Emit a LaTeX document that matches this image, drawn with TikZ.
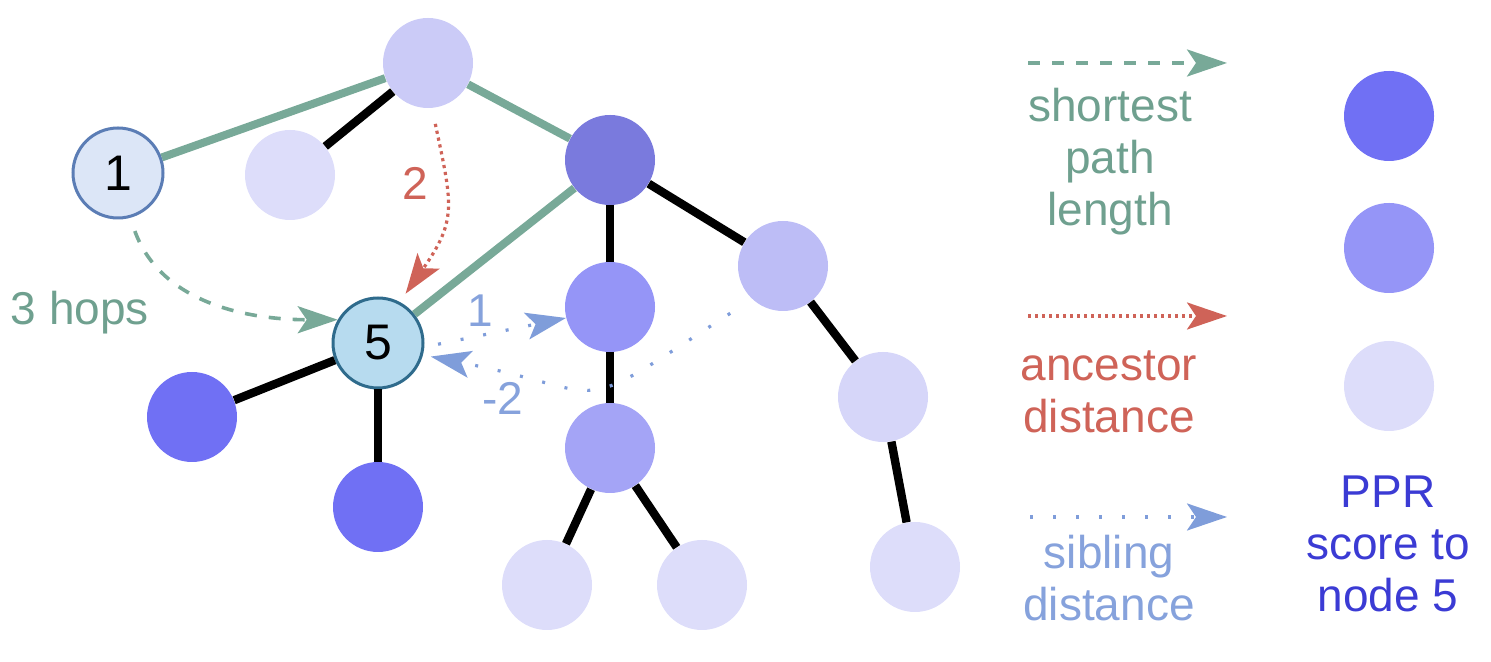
\documentclass[tikz,border=0pt]{standalone}
\usepackage{fontspec}
\setmainfont{Liberation Sans}
\usetikzlibrary{arrows.meta}

\definecolor{spgreen}{HTML}{78A998}
\definecolor{sptext}{HTML}{6FA08F}
\definecolor{ancred}{HTML}{CF6358}
\definecolor{sibblue}{HTML}{7F9DDA}
\definecolor{sibtext}{HTML}{86A2DC}
\definecolor{pprtext}{HTML}{3B3BD4}
\definecolor{pprA}{HTML}{7070F4}
\definecolor{pprB}{HTML}{7A7ADD}
\definecolor{pprC}{HTML}{9595F7}
\definecolor{pprD}{HTML}{A4A4F6}
\definecolor{pprE}{HTML}{BDBDF6}
\definecolor{pprF}{HTML}{CBCBF7}
\definecolor{pprG}{HTML}{D6D6F9}
\definecolor{pprH}{HTML}{DDDDFA}
\definecolor{onefill}{HTML}{DCE6F7}
\definecolor{oneline}{HTML}{5B7DB5}
\definecolor{fivefill}{HTML}{B7DBEF}
\definecolor{fiveline}{HTML}{2F6B8C}

\begin{document}
\begin{tikzpicture}[x=0.5pt,y=0.5pt, % 1 unit = 1 px of the drawing
  font=\fontsize{23}{26}\selectfont,
  vertex/.style={circle,minimum size=\nodesize,inner sep=0pt},
  marked/.style={vertex,draw,line width=1.5pt,font=\fontsize{25}{30}\selectfont},
  treeedge/.style={line width=\edgewd},
  pathedge/.style={line width=4pt,draw=spgreen},
  tip/.style={-{Stealth[length=20pt,width=13.5pt,inset=4.5pt]}},
  hopsarrow/.style={tip,spgreen,line width=1.8pt,dash pattern=on 6pt off 6pt},
  ancarrow/.style={tip,ancred,line width=1.6pt,dash pattern=on 1.6pt off 1.9pt},
  sibarrow/.style={tip,sibblue,line width=1.6pt,dash pattern=on 1.5pt off 10pt}]

% --------- PARAMETERS ----------
\def\nodesize{45pt}   % diameter of a vertex
\def\edgewd{4.2pt}    % width of the tree edges
% --------------------------------

\useasboundingbox (0,0) rectangle (1491,662);

% Vertices (fill = PPR score to node 5)
\node[vertex,fill=pprF] (top) at (428,599) {};
\node[marked,fill=onefill,draw=oneline] (n1) at (118,489) {1};
\node[vertex,fill=pprH] (leafa) at (290,487) {};
\node[vertex,fill=pprB] (hub) at (610,502) {};
\node[vertex,fill=pprC] (mida) at (610,355) {};
\node[vertex,fill=pprD] (midb) at (610,214) {};
\node[vertex,fill=pprE] (side) at (783,396) {};
\node[marked,fill=fivefill,draw=fiveline] (n5) at (378,319) {5};
\node[vertex,fill=pprA] (kida) at (192,245) {};
\node[vertex,fill=pprA] (kidb) at (378,155) {};
\node[vertex,fill=pprG] (sideb) at (883,265) {};
\node[vertex,fill=pprH] (leafb) at (547,77) {};
\node[vertex,fill=pprH] (leafc) at (702,77) {};
\node[vertex,fill=pprH] (leafd) at (915,95) {};

% Shortest path 1 -> 5
\draw[pathedge] (n1) -- (top);
\draw[pathedge] (top) -- (hub);
\draw[pathedge] (hub) -- (n5);

% Other tree edges
\draw[treeedge] (top) -- (leafa);
\draw[treeedge] (hub) -- (mida);
\draw[treeedge] (hub) -- (side);
\draw[treeedge] (mida) -- (midb);
\draw[treeedge] (midb) -- (leafb);
\draw[treeedge] (midb) -- (leafc);
\draw[treeedge] (side) -- (sideb);
\draw[treeedge] (sideb) -- (leafd);
\draw[treeedge] (n5) -- (kida);
\draw[treeedge] (n5) -- (kidb);

% Distances to node 5
\draw[hopsarrow,shorten <=7pt] (n1.-75) to[out=-70,in=180] (n5.150);
\node[text=sptext,anchor=base] (hopslbl) at (80,337) {3 hops};

\draw[ancarrow,shorten <=8pt,shorten >=5pt] (top.-85) to[out=-78,in=55,looseness=1.3] (n5.62);
\node[text=ancred,anchor=base] (anclbl) at (415,462) {2};

\draw[sibarrow,shorten <=7pt] (n5.-5) -- (mida.194);
\node[text=sibtext,anchor=base] (sibone) at (480,335) {1};
\draw[sibarrow,shorten <=13pt,shorten >=4pt] (side.227) .. controls (564,241) and (621,268) .. (n5.-15);
\node[text=sibtext,anchor=base] (sibtwo) at (503,247) {-2};

% Legend, arrows
\coordinate (spa) at (1028,599); \coordinate (spb) at (1227,599);
\draw[hopsarrow] (spa) -- (spb);
\node[text=sptext,align=center] (splgd) at (1110,500) {shortest\\path\\length};

\coordinate (anca) at (1028,346); \coordinate (ancb) at (1227,346);
\draw[ancarrow] (anca) -- (ancb);
\node[text=ancred,align=center] (anclgd) at (1109,270) {ancestor\\distance};

\coordinate (siba) at (1030,145); \coordinate (sibb) at (1227,145);
\draw[sibarrow] (siba) -- (sibb);
\node[text=sibtext,align=center] (siblgd) at (1109,84) {sibling\\distance};

% Legend, PPR scale
\node[vertex,fill=pprA] (scalehi) at (1389,546) {};
\node[vertex,fill=pprC] (scalemid) at (1389,414) {};
\node[vertex,fill=pprH] (scalelo) at (1389,276) {};
\node[text=pprtext,align=center] (pprlgd) at (1388,118) {PPR\\score to\\node 5};

\end{tikzpicture}
\end{document}
